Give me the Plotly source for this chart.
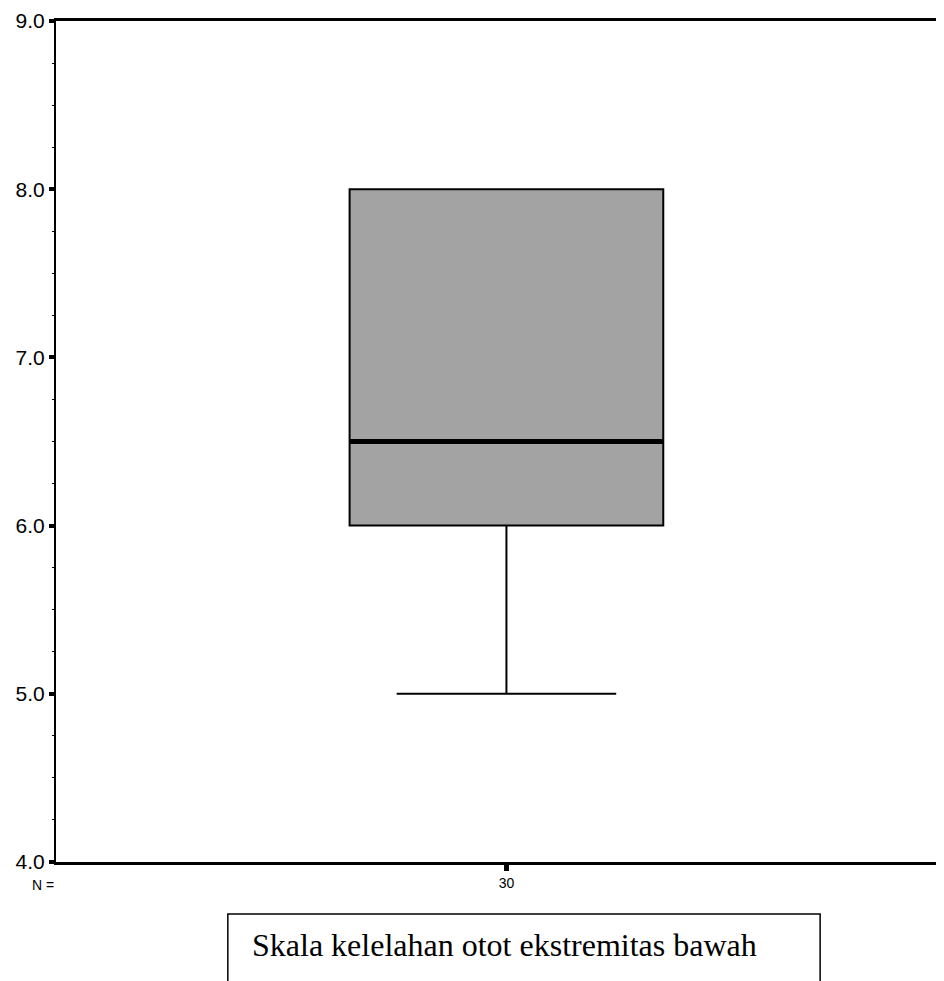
import plotly.graph_objects as go

# Data
group_labels = ["30"]          # N per group shown under the axis
q1_vals = [6.0]
median_vals = [6.5]
q3_vals = [8.0]
lower_whisker = [5.0]
upper_whisker = [8.0]
y_ticks = [4.0, 5.0, 6.0, 7.0, 8.0, 9.0]
caption = "Skala kelelahan otot ekstremitas bawah"

BOX_W = 1.0
xpos = [0]

fig = go.Figure()
fig.add_trace(go.Box(
    x=xpos, q1=q1_vals, median=median_vals, q3=q3_vals,
    lowerfence=lower_whisker, upperfence=upper_whisker,
    width=BOX_W, whiskerwidth=0.70,
    fillcolor="#a3a3a3", line=dict(color="black", width=2),
    showlegend=False, hoverinfo="skip",
))
# thick median bar
for x, m in zip(xpos, median_vals):
    fig.add_trace(go.Scatter(
        x=[x - BOX_W / 2, x + BOX_W / 2], y=[m, m], mode="lines",
        line=dict(color="black", width=5), showlegend=False, hoverinfo="skip",
    ))

fig.update_layout(
    width=936, height=973,
    margin=dict(l=48, r=0, t=13, b=119),
    paper_bgcolor="white", plot_bgcolor="white",
    font=dict(family="Liberation Sans, Arial", color="black"),
    xaxis=dict(
        range=[-1.436, 1.395], tickmode="array", tickvals=xpos, ticktext=group_labels,
        showgrid=False, zeroline=False, showline=True, mirror=True,
        linecolor="black", linewidth=3, ticks="outside", ticklen=6, tickwidth=5,
        tickcolor="black", tickfont=dict(size=14, family="Liberation Sans Narrow, Arial"),
    ),
    yaxis=dict(
        range=[4.0, 9.0], tickmode="array", tickvals=y_ticks,
        ticktext=[f"{v:.1f}" for v in y_ticks],
        showgrid=False, zeroline=False, showline=True, linecolor="black", linewidth=2,
        ticks="outside", ticklen=5, tickwidth=4, tickcolor="black",
        tickfont=dict(size=21, family="Liberation Sans, Arial"),
        minor=dict(ticks="outside", ticklen=2, tickwidth=1, tickcolor="black", dtick=0.25),
    ),
    shapes=[dict(
        type="rect", xref="paper", yref="paper",
        x0=0.1935, x1=0.8605, y0=-0.0618, y1=-0.16,
        line=dict(color="black", width=1.5), fillcolor="rgba(0,0,0,0)",
    )],
    annotations=[
        dict(text="N =", xref="paper", yref="paper", x=-0.0146, y=-0.0273,
             xanchor="center", yanchor="middle", showarrow=False,
             font=dict(size=14, family="Liberation Sans Narrow, Arial")),
        dict(text=caption, xref="paper", yref="paper", x=0.219, y=-0.0986,
             xanchor="left", yanchor="middle", showarrow=False,
             font=dict(size=32, family="Liberation Serif, Times New Roman")),
    ],
)

fig.write_html("out.html")
